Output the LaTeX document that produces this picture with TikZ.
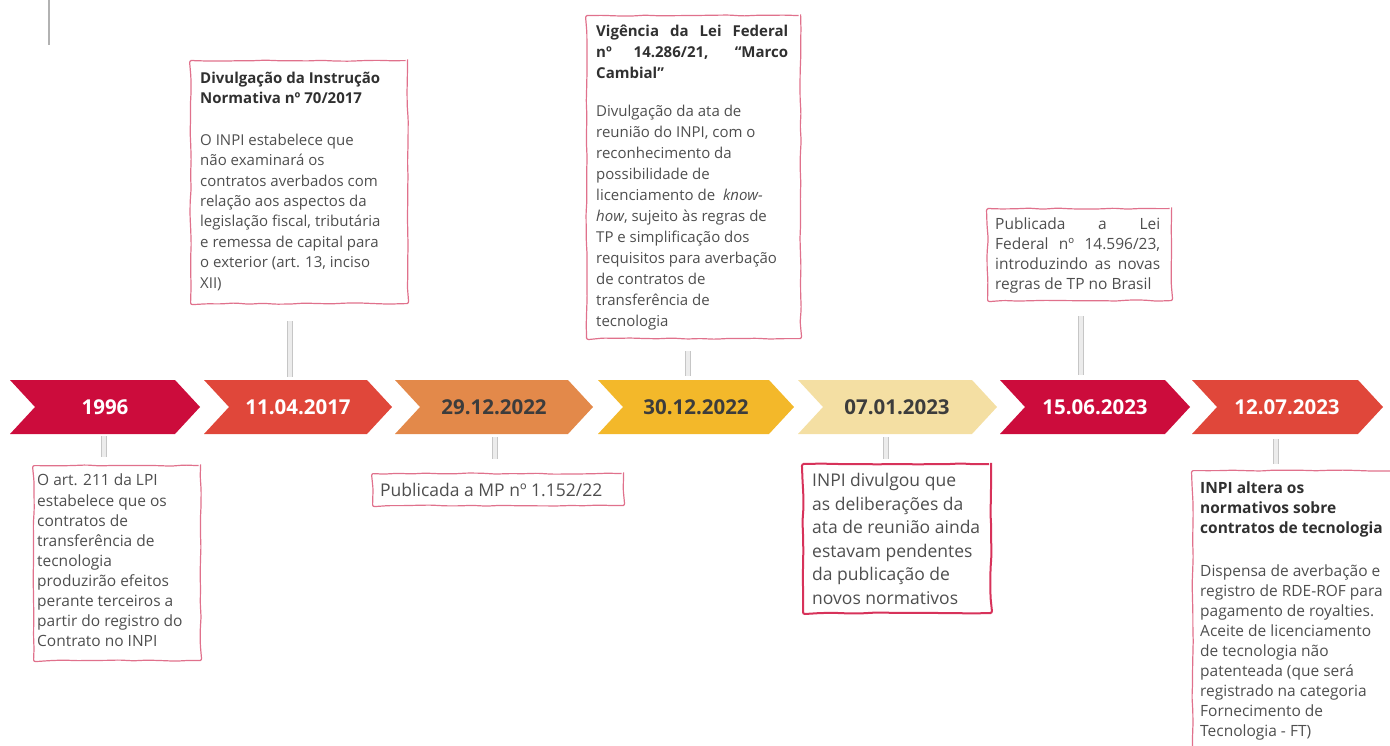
\documentclass[tikz,border=0pt]{standalone}
\usepackage{fontspec}
\setmainfont{Open Sans}
\usetikzlibrary{decorations.pathmorphing,calc}
\definecolor{crim}{HTML}{CC0C3C}
\definecolor{redor}{HTML}{E0473A}
\definecolor{orng}{HTML}{E3894A}
\definecolor{yell}{HTML}{F3B82A}
\definecolor{beige}{HTML}{F4DFA3}
\definecolor{pinkline}{HTML}{E0718C}
\definecolor{redline}{HTML}{D7325A}
\definecolor{bodytxt}{HTML}{4E4E4E}
\definecolor{titletxt}{HTML}{303030}
\definecolor{datedark}{HTML}{3C3C3C}
\newcommand\chevshape[3]{\fill[#3] (#1,380) -- ({#2-25},380) -- (#2,407) -- ({#2-25},434) -- (#1,434) -- ({#1+25},407) -- cycle;}
\newcommand\ttl[1]{{\bfseries\color{titletxt}#1}}
\tikzset{
  datelbl/.style={font=\bfseries\fontsize{20.5}{24}\selectfont, minimum height=54pt, minimum width=120pt, inner sep=0pt},
  sketch/.style={draw=pinkline, line width=1.2pt, decorate, decoration={random steps, segment length=14pt, amplitude=0.6pt}, rounded corners=2pt},
  boxframe/.style={sketch, anchor=north west, inner sep=0pt},
  txt/.style={anchor=north west, inner sep=0pt, align=left, text=bodytxt},
  bar/.style={draw=gray!45, line width=0.8pt, double=gray!15, double distance=4.5pt},
}
\begin{document}
\begin{tikzpicture}[x=1pt,y=-1pt]
\pgfmathsetseed{7}
\useasboundingbox (0,0) rectangle (1390,746);
\clip (0,0) rectangle (1390,746);
% top-left rule
\draw[gray!60, line width=2.5pt] (49,0) -- (49,45);
% chevrons
\chevshape{10}{200}{crim}
\chevshape{204}{392}{redor}
\chevshape{395}{593}{orng}
\chevshape{598}{794}{yell}
\chevshape{798}{997}{beige}
\chevshape{1000}{1190}{crim}
\chevshape{1192}{1383}{redor}
\node[datelbl, text=white] (c1) at (105,407) {1996};
\node[datelbl, text=white] (c2) at (298,407) {11.04.2017};
\node[datelbl, text=datedark] (c3) at (494,407) {29.12.2022};
\node[datelbl, text=datedark] (c4) at (696,407) {30.12.2022};
\node[datelbl, text=datedark] (c5) at (897,407) {07.01.2023};
\node[datelbl, text=white] (c6) at (1095,407) {15.06.2023};
\node[datelbl, text=white] (c7) at (1287,407) {12.07.2023};
% boxes
\node[boxframe, minimum width=217pt, minimum height=243pt] (bA) at (190,60) {};
\node[txt, font=\fontsize{15}{20.4}\selectfont] (tA) at (200,72) {\ttl{Divulgação da Instrução}\\ \ttl{Normativa nº 70/2017}\\[21pt]
O INPI estabelece que\\não examinará os\\contratos averbados com\\relação aos aspectos da\\legislação fiscal, tributária\\e remessa de capital para\\o exterior (art. 13, inciso\\XII)};
\node[boxframe, minimum width=214pt, minimum height=323pt] (bB) at (586,15) {};
\node[txt, font=\fontsize{15}{21}\selectfont] (tB) at (596,25) {\ttl{\makebox[192pt][s]{Vigência da Lei Federal}}\\ \ttl{\makebox[192pt][s]{nº 14.286/21, “Marco}}\\ \ttl{Cambial”}\\[17pt]
Divulgação da ata de\\reunião do INPI, com o\\reconhecimento da\\possibilidade de\\licenciamento de \ \textit{know-}\\\textit{how}, sujeito às regras de\\TP e simplificação dos\\requisitos para averbação\\de contratos de\\transferência de\\tecnologia};
\node[boxframe, minimum width=184pt, minimum height=92pt] (bC) at (987,208) {};
\node[txt, font=\fontsize{15.5}{20}\selectfont] (tC) at (995,218) {\makebox[165pt][s]{Publicada a Lei}\\\makebox[165pt][s]{Federal nº 14.596/23,}\\\makebox[165pt][s]{introduzindo as novas}\\regras de TP no Brasil};
\node[boxframe, minimum width=167pt, minimum height=195pt] (bD) at (33,465) {};
\node[txt, font=\fontsize{15.5}{20.1}\selectfont] (tD) at (37,474) {O art. 211 da LPI\\estabelece que os\\contratos de\\transferência de\\tecnologia\\produzirão efeitos\\perante terceiros a\\partir do registro do\\Contrato no INPI};
\node[boxframe, minimum width=251pt, minimum height=32pt] (bE) at (372,473) {};
\node[txt, font=\fontsize{17.5}{22}\selectfont, anchor=west] (tE) at (380,490) {Publicada a MP nº 1.152/22};
\node[boxframe, draw=redline, line width=2pt, minimum width=188pt, minimum height=149pt] (bF) at (802,463) {};
\node[txt, font=\fontsize{17.5}{23.6}\selectfont] (tF) at (812,473) {INPI divulgou que\\as deliberações da\\ata de reunião ainda\\estavam pendentes\\da publicação de\\novos normativos};
\node[boxframe, minimum width=210pt, minimum height=300pt] (bG) at (1192,470) {};
\node[txt, font=\fontsize{15.5}{20}\selectfont] (tG) at (1200,482) {\ttl{INPI altera os}\\ \ttl{normativos sobre}\\ \ttl{contratos de tecnologia}\\[23pt]
Dispensa de averbação e\\registro de RDE-ROF para\\pagamento de royalties.\\Aceite de licenciamento\\de tecnologia não\\patenteada (que será\\registrado na categoria\\Fornecimento de\\Tecnologia - FT)};
% connectors
\coordinate (a2) at ([xshift=-8pt]c2.north);
\coordinate (a4) at ([xshift=-8pt]c4.north);
\coordinate (a6) at ([xshift=-14pt]c6.north);
\coordinate (a1) at ([xshift=-1pt]c1.south);
\coordinate (a3) at ([xshift=1pt]c3.south);
\coordinate (a5) at ([xshift=-11pt]c5.south);
\coordinate (a7) at ([xshift=-11pt]c7.south);
\draw[bar, shorten <=3pt, shorten >=17pt] (a2) -- (a2 |- bA.south);
\draw[bar, shorten <=4pt, shorten >=12pt] (a4) -- (a4 |- bB.south);
\draw[bar, shorten <=5pt, shorten >=15pt] (a6) -- (a6 |- bC.south);
\draw[bar, shorten <=2pt, shorten >=8pt] (a1) -- (a1 |- bD.north);
\draw[bar, shorten <=3pt, shorten >=14pt] (a3) -- (a3 |- bE.north);
\draw[bar, shorten <=3pt, shorten >=4pt] (a5) -- (a5 |- bF.north);
\draw[bar, shorten <=5pt, shorten >=6pt] (a7) -- (a7 |- bG.north);
\end{tikzpicture}
\end{document}
